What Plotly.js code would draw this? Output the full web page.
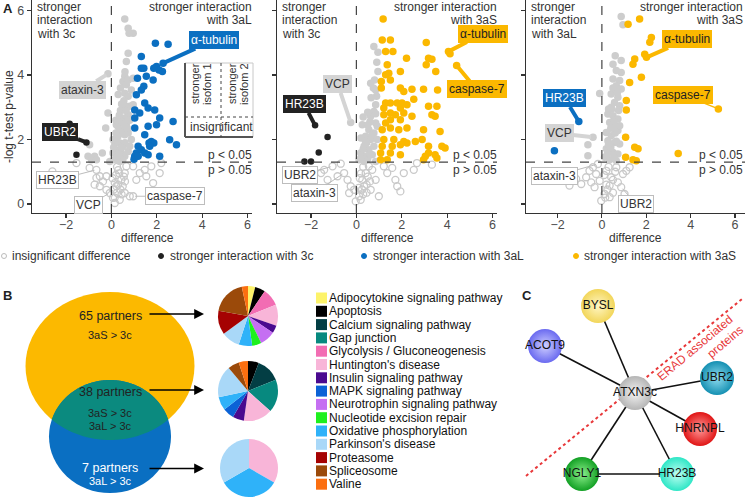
<!DOCTYPE html>
<html><head><meta charset="utf-8">
<script src="https://cdn.plot.ly/plotly-3.0.1.min.js"></script>
<style>html,body{margin:0;padding:0;background:#fff}#g{width:745px;height:499px}</style>
</head><body><div id="g"></div>
<script>
// ---------------- DATA ----------------
// Panel A1: 3aL vs 3c
const p1BlueX=[1.94,2.5,1.32,1.99,2.28,2.1,1.87,2.25,1.32,1.43,1.54,1.84,1.15,1.43,1.32,1.1,1.47,1.62,1.91,1.03,1.25,2.13,1.03,1.62,1.99,2.72,1.47,1.03,1.76,1.66,1.87,1.18,2.57,2.87,1.69,1.1,1.32,1.47,1.03,2.13,1.62,1.0,1.18];
const p1BlueY=[4.99,4.96,4.58,4.27,4.37,4.16,4.21,4.11,4.21,4.21,3.96,3.85,3.9,3.65,3.54,3.39,3.13,2.98,2.92,2.92,2.82,2.67,2.67,2.41,2.46,2.56,2.15,2.36,1.94,1.89,1.89,1.79,1.99,1.84,1.79,1.58,1.68,1.58,1.48,1.48,1.53,1.39,1.48];
const p1BlackX=[-1.84,-1.1,-1.54];
const p1BlackY=[2.49,1.91,1.53];
const p1SigX=[0.59,0.74,0.96,0.78,0.74,0.66,-0.15,0.59,0.74,0.96,0.51,0.66,0.88,0.59,0.74,0.96,0.81,0.63,-0.15,0.51,0.74,0.59,0.44,0.66,-0.25,0.51,0.37,0.29,0.59,0.74,0.15,0.37,0.51,0.22,0.07,0.29,0.44,0.59,0.74,-0.96,-1.03,-0.74,-0.88,-0.4,-0.66,0.15,0.37,-0.07,0.22,0.07,0.88,0.81,0.2,0.3,0.4,0.25,0.1,0.45,0.35,0.55,0.65,0.3,0.45,0.55,0.35,0.2,0.6,0.5,0.25,0.7,0.45,0.8,0.4,0.6];
const p1SigY=[5.74,5.45,5.3,5.3,4.68,4.42,4.04,3.96,3.85,3.9,3.8,3.7,3.54,3.44,3.34,3.08,3.03,3.03,2.82,2.92,2.77,2.67,2.56,2.46,2.36,2.3,2.2,2.1,2.15,2.2,1.89,1.89,1.79,1.68,1.58,1.48,1.58,1.48,1.63,1.84,1.48,1.48,1.37,1.58,1.37,1.37,1.32,1.32,2.46,2.0,2.0,1.79,2.6,2.4,2.9,1.95,1.75,2.2,1.6,3.2,2.9,3.4,3.1,2.5,2.75,2.2,1.9,1.35,1.45,2.35,1.75,2.6,3.6,4.1];
const p1NsX=[-2.6,-1.54,-0.96,-0.66,-0.51,-0.37,-0.22,-0.74,-0.51,-0.66,2.13,1.84,1.54,1.25,2.2,1.76,1.47,0.96,1.1,0.81,0.96,-0.22,-0.07,0.07,0.22,0.44,0.59,0.66,0.37,0.15,0.59,0.2,0.3,0.45,0.1,0.25,0.5,0.35,0.05,0.6,0.15,0.3,0.15,0.4,0.55,0.25];
const p1NsY=[1.01,1.27,1.12,1.06,0.86,0.7,0.86,0.6,0.55,0.81,0.96,0.65,0.86,0.96,1.27,1.17,1.06,1.17,0.75,0.24,0.24,0.44,0.34,0.19,0.55,0.75,0.96,1.17,0.13,0.03,0.34,0.9,0.6,0.3,0.45,1.15,0.55,0.95,0.8,0.7,0.2,1.05,0.65,0.45,0.85,0.35];

// Panel A2: 3aS vs 3c
const p2YellowX=[1.18,1.14,1.5,1.29,1.61,3.08,2.21,3.18,3.33,4.06,4.13,4.42,3.08,1.36,1.43,1.29,1.5,1.94,3.5,1.1,1.1,2.96,2.45,1.94,2.09,3.58,2.53,1.29,1.5,1.8,2.01,2.23,1.21,1.94,3.18,3.33,3.55,1.21,1.5,1.72,2.09,2.45,3.47,1.5,1.94,3.69,1.14,1.5,1.87,2.23,2.96,1.21,1.65,2.09,2.6,2.9,1.14,1.58,1.94,2.23,3.18,3.77,3.91,1.07,1.5,1.94,3.18,3.47,3.04,1.07,1.36,2.96,3.55,1.29];
const p2YellowY=[5.74,5.09,5.09,4.73,4.73,5.01,4.52,4.52,4.49,4.73,4.66,4.3,4.32,4.32,4.06,4.01,3.85,4.11,4.11,3.8,3.6,3.56,3.56,3.6,3.49,3.54,3.25,3.13,3.13,3.13,3.13,3.08,2.98,2.98,3.03,2.77,3.03,2.77,2.82,2.77,2.82,2.72,2.72,2.61,2.61,2.25,2.3,2.36,2.3,2.36,2.3,2.0,2.0,1.94,1.94,2.0,1.79,1.79,1.84,1.89,1.79,1.79,1.74,1.58,1.58,1.53,1.58,1.53,1.48,1.37,1.37,1.37,1.43,2.51];
const p2BlackX=[-1.82,-1.27,-1.66,-2.29,-2.0];
const p2BlackY=[2.44,2.08,1.6,1.32,1.32];
const p2SigX=[0.77,0.95,0.95,0.63,0.85,-0.25,0.26,0.85,0.77,0.63,0.85,0.55,0.41,0.77,0.63,0.34,0.55,0.19,0.41,0.77,0.7,0.12,0.34,0.85,0.92,0.92,0.89,0.8,0.3,0.45,0.6,0.2,0.5,0.5,0.65,0.7,0.4,0.3,0.6,0.2,0.75,0.5,0.9,0.85];
const p2SigY=[4.89,4.71,4.11,3.75,3.54,2.53,2.46,3.08,2.87,2.72,2.51,2.3,2.1,2.2,2.0,1.79,1.68,1.58,1.48,1.79,1.53,1.37,1.32,1.32,2.0,2.41,3.34,3.85,2.7,1.9,2.55,2.05,1.4,2.85,3.3,2.15,1.95,1.7,1.55,1.4,3.6,2.45,4.4,2.8];
const p2NsX=[-0.69,-1.05,-1.42,-1.56,-0.54,-0.83,-1.27,-0.39,-0.25,-0.32,-0.1,0.12,-0.03,0.26,0.41,0.55,0.7,0.34,0.63,0.85,1.21,1.36,1.58,1.8,1.94,1.72,2.67,2.53,2.09,3.33,0.99,0.19,0.2,0.45,0.1,0.3,0.5,0.3,0.15,0.45,0.6,0.25];
const p2NsY=[1.25,1.17,1.06,0.96,0.96,0.86,0.75,0.75,0.55,0.34,0.44,0.24,0.08,0.75,0.96,1.17,1.06,0.55,0.44,0.75,1.17,0.96,1.12,0.55,0.39,0.75,1.27,1.06,0.96,1.22,0.24,0.13,0.95,0.6,0.5,0.3,0.85,1.15,0.8,0.35,0.7,0.45];

// Panel A3: 3aS vs 3aL
const p3YellowX=[1.7,1.18,2.23,2.16,1.93,2.01,1.48,1.4,1.78,1.25,5.25,1.1,1.1,1.07,1.48,1.63,3.44,1.07,1.4,1.55];
const p3YellowY=[5.74,5.58,5.17,5.02,4.65,4.55,4.5,4.34,3.93,3.77,2.95,3.21,2.92,2.07,1.76,1.71,1.57,1.45,1.37,1.34];
const p3BlueX=[-1.04,-2.14];
const p3BlueY=[2.56,1.65];
const p3SigX=[0.87,0.95,0.5,0.87,0.65,0.87,0.5,0.8,0.65,0.87,-0.1,0.42,0.72,0.57,0.8,0.27,0.5,0.72,0.35,0.5,0.72,0.2,0.42,-0.4,-0.63,-0.63,0.27,0.57,0.8,0.2,0.5,0.72,0.12,0.35,0.65,0.8,0.42,0.3,0.55,0.4,0.6,0.6,0.5,0.7,0.45,0.6,0.3,0.55,0.75,0.4,0.65,0.25];
const p3SigY=[5.82,5.56,4.34,4.45,4.14,4.08,3.88,3.83,3.67,3.57,3.43,3.41,3.31,3.15,3.05,2.79,2.74,2.64,2.53,2.38,2.28,2.22,2.12,2.07,1.84,1.5,1.96,1.91,1.86,1.71,1.6,1.55,1.45,1.37,1.34,2.43,3.0,2.95,2.55,1.75,3.6,4.6,3.6,3.45,2.95,2.2,1.85,1.45,2.9,2.35,1.95,1.55];
const p3NsX=[-0.18,-0.4,-0.56,-0.71,-0.26,-0.48,-0.33,-0.1,-1.46,-1.16,-0.93,0.2,0.42,0.65,0.95,0.72,0.87,1.1,1.25,1.02,0.12,-0.03,0.35,0.35,0.1,0.25,0.5,0.5,0.2,0.6,0.3,0.15];
const p3NsY=[1.24,1.14,1.03,0.83,0.93,0.67,0.52,0.72,0.57,0.78,0.62,1.03,0.83,1.14,0.93,0.67,0.52,1.03,1.14,0.31,0.31,0.1,0.21,0.57,0.9,0.45,0.35,0.75,0.6,1.0,1.15,0.2];

const pThreshold = 1.301; // -log10(0.05)
const xTicks=[-2,0,2,4,6];
const yTicks=[0,2,4,6];
const legendA=['insignificant difference','stronger interaction with 3c','stronger interaction with 3aL','stronger interaction with 3aS'];

// Panel B
const vennCounts=[65,38,7];
const pathways=['Adipocytokine signaling pathway','Apoptosis','Calcium signaling pathway','Gap junction','Glycolysis / Gluconeogenesis',"Huntington's disease",'Insulin signaling pathway','MAPK signaling pathway','Neurotrophin signaling pathway','Nucleotide excision repair','Oxidative phosphorylation',"Parkinson's disease",'Proteasome','Spliceosome','Valine'];
const pie1Labels=['Adipocytokine signaling pathway','Apoptosis','Glycolysis / Gluconeogenesis',"Huntington's disease",'Insulin signaling pathway','Neurotrophin signaling pathway','Nucleotide excision repair','Oxidative phosphorylation',"Parkinson's disease",'Proteasome','Spliceosome','Valine'];
const pie1Values=[14,20,34,41,15,30,18,26,36,46,68,12];
const pie2Labels=['Apoptosis','Calcium signaling pathway','Gap junction',"Huntington's disease",'Insulin signaling pathway','MAPK signaling pathway','Oxidative phosphorylation',"Parkinson's disease",'Spliceosome','Valine'];
const pie2Values=[21,47,64,56,22,22,26,62,22,18];
const pie3Labels=["Huntington's disease",'Oxidative phosphorylation',"Parkinson's disease"];
const pie3Values=[1,1,1];

// Panel C
const nodeNames=['BYSL','ACOT9','ATXN3c','UBR2','HNRNPL','NGLY1','HR23B'];
const edges=[['ATXN3c','BYSL'],['ATXN3c','ACOT9'],['ATXN3c','UBR2'],['ATXN3c','HNRNPL'],['ATXN3c','NGLY1'],['ATXN3c','HR23B'],['NGLY1','HR23B']];

// ---------------- STYLE / LAYOUT ----------------
const W=745,H=499;
const FONT='Liberation Sans, Arial, sans-serif';
const COL={ns:'#c9c9c9',sig:'#cdcdcd',c:'#222222',aL:'#0b6fc1',aS:'#fbb800'};
const pathwayColors=['#fdf36a','#000000','#033e44','#07897f','#f26db3','#f8b5d8','#4a0a8f','#0b62d6','#c56ff2','#1ef01e','#2fb2f9','#a9d8f8','#a50202','#9b4a0a','#fb6f10'];
const colorOf=l=>pathwayColors[pathways.indexOf(l)];
const nodePos={BYSL:[598,306],ACOT9:[545,346],ATXN3c:[635,393],UBR2:[717,378],HNRNPL:[700,429],NGLY1:[582,474],HR23B:[677,474]};
const nodeFill={BYSL:'#f2d65a',ACOT9:'#6a6af0',ATXN3c:'#b5b5b5',UBR2:'#1590b2',HNRNPL:'#e01515',NGLY1:'#12a024',HR23B:'#2ee6c6'};
const nodeHi={BYSL:'#fff6c4',ACOT9:'#cfcfff',ATXN3c:'#f4f4f4',UBR2:'#8fdcef',HNRNPL:'#ff9a9a',NGLY1:'#8cf08c',HR23B:'#c0fff2'};

const panels=[
 {xa:'x',ya:'y',dom:[32,252],range:[-3.5,6.2],
  sets:[[p1NsX,p1NsY,'ns'],[p1SigX,p1SigY,'sig'],[p1BlackX,p1BlackY,'c'],[p1BlueX,p1BlueY,'aL']]},
 {xa:'x2',ya:'y2',dom:[277,497],range:[-3.5,6.2],
  sets:[[p2NsX,p2NsY,'ns'],[p2SigX,p2SigY,'sig'],[p2BlackX,p2BlackY,'c'],[p2YellowX,p2YellowY,'aS']]},
 {xa:'x3',ya:'y3',dom:[526,745],range:[-3.42,6.45],
  sets:[[p3NsX,p3NsY,'ns'],[p3SigX,p3SigY,'sig'],[p3BlueX,p3BlueY,'aL'],[p3YellowX,p3YellowY,'aS']]}
];
const YR=[-0.28,6.33];

const traces=[];
panels.forEach(p=>{
  p.sets.forEach(([x,y,k])=>{
    const m = k==='ns' ? {symbol:'circle-open',size:7,color:COL.ns,line:{width:1.3,color:COL.ns}}
            : {symbol:'circle',size:(k==='c'?6.5:7.5),color:COL[k],line:{width:0}};
    traces.push({type:'scatter',mode:'markers',x,y,xaxis:p.xa,yaxis:p.ya,marker:m,hoverinfo:'skip',showlegend:false,cliponaxis:false});
  });
});

// pies
const pies=[[pie1Labels,pie1Values,[218,278],[286,346]],[pie2Labels,pie2Values,[218,278],[361,421]],[pie3Labels,pie3Values,[220,278],[439,497]]];
pies.forEach(([lab,val,dx,dy])=>{
  traces.push({type:'pie',labels:lab,values:val,sort:false,direction:'clockwise',rotation:0,textinfo:'none',hoverinfo:'none',
    marker:{colors:lab.map(colorOf),line:{width:0}},showlegend:false,
    domain:{x:[dx[0]/W,dx[1]/W],y:[1-dy[1]/H,1-dy[0]/H]}});
});

// network
const ex=[],ey=[];
edges.forEach(([a,b])=>{ex.push(nodePos[a][0],nodePos[b][0],null);ey.push(nodePos[a][1],nodePos[b][1],null);});
traces.push({type:'scatter',mode:'lines',x:ex,y:ey,xaxis:'x4',yaxis:'y4',line:{color:'#111',width:1.6},hoverinfo:'skip',showlegend:false,cliponaxis:false});
traces.push({type:'scatter',mode:'markers+text',x:nodeNames.map(n=>nodePos[n][0]),y:nodeNames.map(n=>nodePos[n][1]),
  text:nodeNames,textposition:'middle center',textfont:{family:FONT,size:12,color:'#111'},xaxis:'x4',yaxis:'y4',
  marker:{size:34,color:nodeNames.map(n=>nodeFill[n]),gradient:{type:'radial',color:nodeNames.map(n=>nodeHi[n])},line:{width:0}},
  hoverinfo:'skip',showlegend:false,cliponaxis:false});

// axes
const layout={width:W,height:H,margin:{l:0,r:0,t:0,b:0},paper_bgcolor:'#fff',plot_bgcolor:'rgba(0,0,0,0)',showlegend:false,
  font:{family:FONT,size:12,color:'#333'},shapes:[],annotations:[]};
panels.forEach((p,i)=>{
  const s=i===0?'':String(i+1);
  layout['xaxis'+s]={domain:[p.dom[0]/W,p.dom[1]/W],range:p.range,anchor:p.ya,showline:true,linecolor:'#333',linewidth:1.3,
    ticks:'outside',ticklen:4,tickwidth:1.2,tickcolor:'#333',tickvals:xTicks,showgrid:false,zeroline:false,fixedrange:true,
    ticklabelstandoff:-4,tickfont:{family:FONT,size:12.5,color:'#4d4d4d'}};
  layout['yaxis'+s]={domain:[1-213/H,1],range:YR,anchor:p.xa,showline:true,linecolor:'#333',linewidth:1.3,
    ticks:'outside',ticklen:4,tickwidth:1.2,tickcolor:'#333',tickvals:yTicks,showticklabels:i===0,showgrid:false,zeroline:false,fixedrange:true,
    tickfont:{family:FONT,size:12.5,color:'#4d4d4d'}};
  // threshold lines
  layout.shapes.push({type:'line',xref:p.xa,yref:p.ya,x0:p.range[0],x1:p.range[1],y0:pThreshold,y1:pThreshold,line:{color:'#444',width:1.2,dash:'dash'}});
  layout.shapes.push({type:'line',xref:p.xa,yref:p.ya,x0:0,x1:0,y0:YR[0],y1:YR[1],line:{color:'#444',width:1.2,dash:'dash'}});
});
layout.xaxis4={domain:[0,1],range:[0,W],visible:false,fixedrange:true,anchor:'y4'};
layout.yaxis4={domain:[0,1],range:[H,0],visible:false,fixedrange:true,anchor:'x4'};

const A=layout.annotations, S=layout.shapes;
function T(x,y,text,o={}){A.push({xref:'x4',yref:'y4',x,y,text,showarrow:false,xanchor:o.xa||'left',yanchor:o.ya||'middle',
  textangle:o.angle||0,borderpad:0,font:{family:FONT,size:o.size||12,color:o.color||'#333'}});}

// panel letters
T(2,8,'<b>A</b>',{size:13,color:'#222'});
T(2,295,'<b>B</b>',{size:13,color:'#222'});
T(521,295,'<b>C</b>',{size:13,color:'#222'});

// panel A header texts
const lh=13.3;
[[37,['stronger','interaction','with 3c'],252,['stronger interaction','with 3aL']],
 [282,['stronger','interaction','with 3c'],497,['stronger interaction','with 3aS']],
 [531,['stronger','interaction','with 3aL'],743,['stronger interaction','with 3aS']]].forEach(([lx,ll,rx,rl])=>{
  ll.forEach((t,i)=>T(lx-1,7+i*lh,t));
  rl.forEach((t,i)=>T(rx+1,7+i*lh,t,{xa:'right'}));
});
// p-value texts
[252,497,743].forEach(rx=>{T(rx+1,155,'p &lt; 0.05',{xa:'right'});T(rx+1,170,'p &gt; 0.05',{xa:'right'});});
// axis titles
[147,387,635].forEach(cx=>T(cx,238,'difference',{xa:'center'}));
T(9,117,'-log t-test p-value',{xa:'center',angle:-90});

// inset legend in panel 1
S.push({type:'rect',xref:'x4',yref:'y4',x0:185,x1:253,y0:63,y1:137,fillcolor:'#fff',line:{color:'#c8c8c8',width:1}});
S.push({type:'line',xref:'x4',yref:'y4',x0:185,x1:185,y0:63,y1:137,line:{color:'#555',width:2}});
S.push({type:'line',xref:'x4',yref:'y4',x0:185,x1:253,y0:137,y1:137,line:{color:'#555',width:2}});
S.push({type:'line',xref:'x4',yref:'y4',x0:185,x1:253,y0:117,y1:117,line:{color:'#444',width:1,dash:'dot'}});
S.push({type:'line',xref:'x4',yref:'y4',x0:221,x1:221,y0:63,y1:137,line:{color:'#444',width:1,dash:'dot'}});
T(195,84,'stronger',{xa:'center',angle:-90,size:11});
T(207,84,'isofom 1',{xa:'center',angle:-90,size:11});
T(232,84,'stronger',{xa:'center',angle:-90,size:11});
T(244,84,'isofom 2',{xa:'center',angle:-90,size:11});
T(221,127,'insignificant',{xa:'center'});

// labels with pointers
const ST={blue:{bg:COL.aL,fg:'#fff',ar:COL.aL,w:4},yellow:{bg:COL.aS,fg:'#222',ar:COL.aS,w:4},black:{bg:'#222',fg:'#fff',ar:'#222',w:4},
  gray:{bg:'#d4d4d4',fg:'#333',ar:'#d4d4d4',w:4},white:{bg:'#fff',fg:'#333',ar:'#bdbdbd',w:1,bd:'#bdbdbd'},ythin:{bg:COL.aS,fg:'#222',ar:COL.aS,w:1.5}};
const labels=[
 ['x','y','α-tubulin',2.28,4.37,'blue',51,-23],
 ['x','y','ataxin-3',-0.15,4.04,'gray',-25,16],
 ['x','y','UBR2',-1.1,1.91,'black',-26,-10],
 ['x','y','HR23B',-0.66,1.06,'white',-39,10],
 ['x','y','VCP',-0.07,0.34,'white',-21,12],
 ['x','y','caspase-7',0.96,0.24,'white',42,0],
 ['x2','y2','α-tubulin',4.06,4.73,'yellow',35,-18],
 ['x2','y2','caspase-7',4.42,4.3,'yellow',20,24],
 ['x2','y2','VCP',-0.25,2.53,'gray',-13,-38],
 ['x2','y2','HR23B',-1.82,2.44,'black',-11,-21],
 ['x2','y2','UBR2',-1.05,1.17,'white',-33,9],
 ['x2','y2','ataxin-3',-0.54,0.96,'white',-30,20],
 ['x3','y3','α-tubulin',2.01,4.55,'yellow',41,-18],
 ['x3','y3','caspase-7',5.25,2.95,'ythin',-35,-14],
 ['x3','y3','HR23B',-1.04,2.56,'blue',-14,-23],
 ['x3','y3','VCP',-0.4,2.07,'gray',-34,-4],
 ['x3','y3','ataxin-3',-0.18,1.24,'white',-43,12],
 ['x3','y3','UBR2',0.87,0.52,'white',15,17]
];
labels.forEach(([xr,yr,t,x,y,st,dx,dy])=>{
  const s=ST[st];
  A.push({xref:xr,yref:yr,x,y,ax:dx,ay:dy,text:t,showarrow:true,arrowhead:0,arrowwidth:s.w,arrowcolor:s.ar,standoff:2,
    bgcolor:s.bg,bordercolor:s.bd||s.bg,borderwidth:1,borderpad:1,font:{family:FONT,size:12,color:s.fg}});
});

// legend row of panel A
const legX=[[4,11],[161,169],[364,372],[576,583]];
const legStyle=[['#fff','#bbb'],[COL.c,COL.c],[COL.aL,COL.aL],[COL.aS,COL.aS]];
legendA.forEach((t,i)=>{
  const [cx,tx]=legX[i];
  S.push({type:'circle',xref:'x4',yref:'y4',x0:cx-2.5,x1:cx+2.5,y0:256-2.5,y1:256+2.5,fillcolor:legStyle[i][0],line:{color:legStyle[i][1],width:1}});
  T(tx,256,t);
});

// Venn diagram
const eY={cx:110,cy:366,rx:84.5,ry:74}, eB={cx:110,cy:436.5,rx:61,ry:56.5};
S.push({type:'circle',xref:'x4',yref:'y4',x0:eY.cx-eY.rx,x1:eY.cx+eY.rx,y0:eY.cy-eY.ry,y1:eY.cy+eY.ry,fillcolor:'#fcb900',line:{width:0}});
S.push({type:'circle',xref:'x4',yref:'y4',x0:eB.cx-eB.rx,x1:eB.cx+eB.rx,y0:eB.cy-eB.ry,y1:eB.cy+eB.ry,fillcolor:'#0a6fc2',line:{width:0}});
(function(){
  const inside=(p,e)=>((p[0]-e.cx)/e.rx)**2+((p[1]-e.cy)/e.ry)**2<=1.0001;
  const pts=[];const n=720;
  for(let i=0;i<n;i++){const t=2*Math.PI*i/n;
    const a=[eY.cx+eY.rx*Math.cos(t),eY.cy+eY.ry*Math.sin(t)]; if(inside(a,eB))pts.push(a);
    const b=[eB.cx+eB.rx*Math.cos(t),eB.cy+eB.ry*Math.sin(t)]; if(inside(b,eY))pts.push(b);}
  const cx=pts.reduce((s,p)=>s+p[0],0)/pts.length, cy=pts.reduce((s,p)=>s+p[1],0)/pts.length;
  pts.sort((p,q)=>Math.atan2(p[1]-cy,p[0]-cx)-Math.atan2(q[1]-cy,q[0]-cx));
  const path='M'+pts.map(p=>p[0].toFixed(2)+','+p[1].toFixed(2)).join('L')+'Z';
  S.push({type:'path',xref:'x4',yref:'y4',path,fillcolor:'#0b8a7f',line:{width:0}});
})();
T(110,316,vennCounts[0]+' partners',{xa:'center',size:12.5,color:'#222'});
T(110,335,'3aS &gt; 3c',{xa:'center',size:11,color:'#222'});
T(110,392,vennCounts[1]+' partners',{xa:'center',size:12.5,color:'#222'});
T(110,413,'3aS &gt; 3c',{xa:'center',size:11,color:'#222'});
T(110,425.5,'3aL &gt; 3c',{xa:'center',size:11,color:'#222'});
T(110,468,vennCounts[2]+' partners',{xa:'center',size:12.5,color:'#fff'});
T(110,481,'3aL &gt; 3c',{xa:'center',size:11,color:'#fff'});
[314,390,468.5].forEach(y=>A.push({xref:'x4',yref:'y4',x:204,y,axref:'x4',ayref:'y4',ax:148,ay:y,text:'',showarrow:true,
  arrowhead:2,arrowsize:1.4,arrowwidth:1.4,arrowcolor:'#000',standoff:0}));

// pathway legend
pathways.forEach((p,i)=>{
  const y=298+i*13.3;
  S.push({type:'rect',xref:'x4',yref:'y4',x0:316,x1:327,y0:y-5.5,y1:y+5.5,fillcolor:pathwayColors[i],line:{width:0}});
  T(328,y,p,{color:'#111'});
});

// panel C: ERAD line and text
S.push({type:'line',xref:'x4',yref:'y4',x0:526,y0:476,x1:742,y1:299,line:{color:'#e8383a',width:2,dash:'dot'},layer:'below'});
T(695,348,'ERAD associated',{xa:'center',angle:-40,color:'#e8383a'});
T(725,342,'proteins',{xa:'center',angle:-40,color:'#e8383a'});

Plotly.newPlot('g',traces,layout,{staticPlot:true,displayModeBar:false});
</script></body></html>
